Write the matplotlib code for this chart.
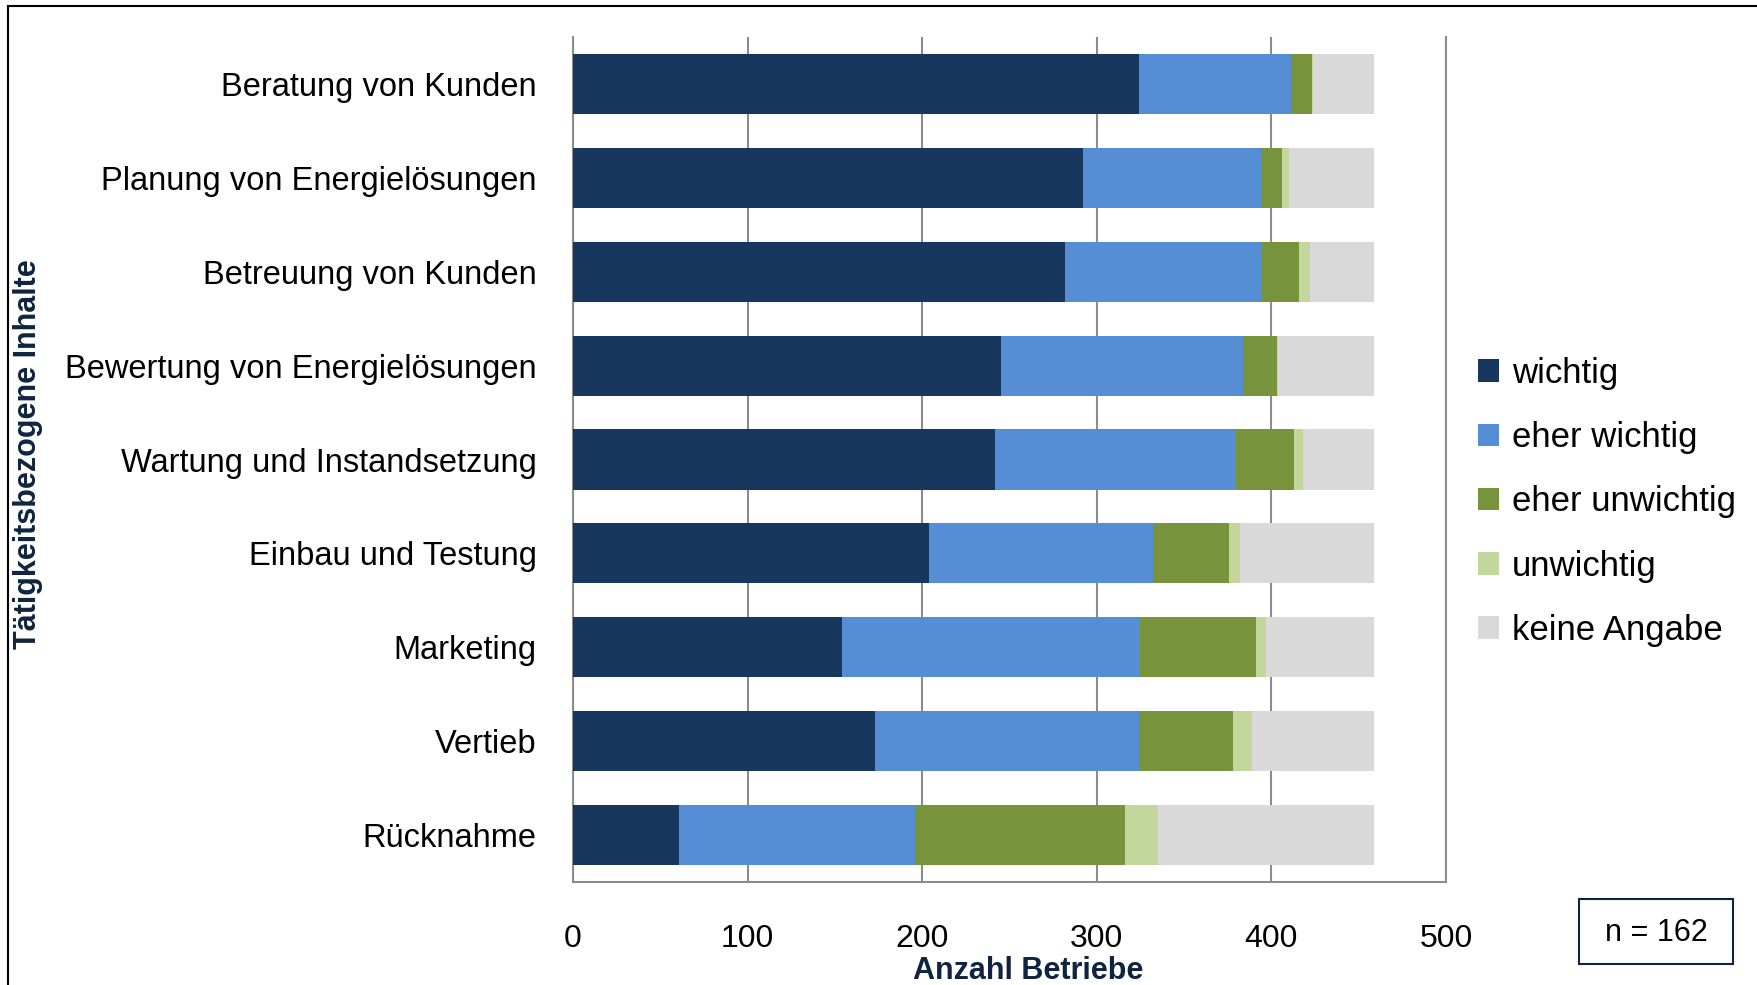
import matplotlib
matplotlib.use("Agg")
import matplotlib.pyplot as plt
from matplotlib.patches import Rectangle
import numpy as np

# Daten
kategorien = ["Beratung von Kunden", "Planung von Energielösungen", "Betreuung von Kunden",
              "Bewertung von Energielösungen", "Wartung und Instandsetzung", "Einbau und Testung",
              "Marketing", "Vertieb", "Rücknahme"]
wichtig = [324, 292, 282, 245, 242, 204, 154, 173, 61]
eher_wichtig = [87, 102, 112, 139, 138, 128, 171, 151, 135]
eher_unwichtig = [12, 12, 22, 19, 33, 44, 66, 54, 120]
unwichtig = [1, 4, 6, 1, 5, 6, 6, 11, 19]
keine_angabe = [35, 49, 37, 55, 41, 77, 62, 70, 124]

serien = ["wichtig", "eher wichtig", "eher unwichtig", "unwichtig", "keine Angabe"]
farben = ["#17375E", "#558ED5", "#77933C", "#C3D69B", "#D9D9D9"]

plt.rcParams['font.family'] = ['Liberation Sans', 'DejaVu Sans']

fig = plt.figure(figsize=(17.58, 9.85), dpi=100)
ax = fig.add_axes([0.3259, 0.1046, 0.4966, 0.8578])

y = np.arange(len(kategorien))
links = np.zeros(len(kategorien))
balken = []
for werte, name, farbe in zip([wichtig, eher_wichtig, eher_unwichtig, unwichtig, keine_angabe],
                              serien, farben):
    b = ax.barh(y, werte, left=links, height=0.64, color=farbe, label=name, zorder=3)
    balken.append(b)
    links = links + np.array(werte)

ax.set_ylim(len(kategorien) - 0.5, -0.5)
ax.set_xlim(0, 500)
ax.set_xticks([0, 100, 200, 300, 400, 500])
ax.set_yticks(y)
ax.set_yticklabels(kategorien)
ax.tick_params(axis='x', length=0, pad=30, labelsize=23)
ax.tick_params(axis='y', length=0, pad=26, labelsize=23.5)

ax.grid(axis='x', color='#8C8C8C', linewidth=1.5, zorder=0)
for s in ['left', 'bottom', 'right']:
    ax.spines[s].set_color('#8C8C8C')
    ax.spines[s].set_linewidth(1.5)
ax.spines['top'].set_visible(False)

fig.text(1028 / 1758, 1 - 971 / 985, "Anzahl Betriebe", ha='center', va='center',
         fontsize=22, fontweight='bold', color='#0F243E')
fig.text(28 / 1758, 1 - 454 / 985, "Tätigkeitsbezogene Inhalte", ha='center', va='center',
         rotation=90, fontsize=22, fontweight='bold', color='#0F243E')

fig.legend(handles=balken, labels=serien, loc='center left', bbox_to_anchor=(0.8407, 0.4904),
           frameon=False, fontsize=25, handlelength=0.62, handleheight=0.62,
           handletextpad=0.35, labelspacing=0.9, borderpad=0, borderaxespad=0)

# n-Box
fig.patches.append(Rectangle((1579 / 1758, 1 - 964 / 985), 154 / 1758, 65 / 985,
                             transform=fig.transFigure, facecolor='white',
                             edgecolor='#0F243E', linewidth=1.5))
fig.text(1656 / 1758, 1 - 933 / 985, "n = 162", ha='center', va='center', fontsize=22)

# Rahmen
fig.patches.append(Rectangle((8 / 1758, -0.1), 1.2, 1.1 - 6 / 985, transform=fig.transFigure,
                             fill=False, edgecolor='black', linewidth=1.5))

fig.savefig("out.png", dpi=100)
